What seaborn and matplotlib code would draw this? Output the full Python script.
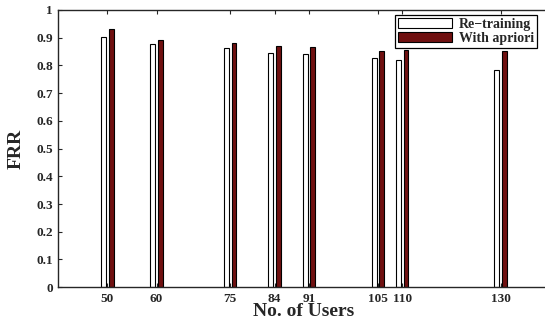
import matplotlib
matplotlib.use("Agg")
import matplotlib.pyplot as plt
import pandas as pd
import seaborn as sns

users = [50, 60, 75, 84, 91, 105, 110, 130]
retraining = [0.901, 0.877, 0.863, 0.845, 0.840, 0.825, 0.820, 0.782]
with_apriori = [0.931, 0.891, 0.880, 0.870, 0.865, 0.851, 0.855, 0.852]
methods = ['Re\u2212training', 'With apriori']
yticks = [0, 0.1, 0.2, 0.3, 0.4, 0.5, 0.6, 0.7, 0.8, 0.9, 1]

df = pd.DataFrame({
    'users': users * 2,
    'frr': retraining + with_apriori,
    'method': [methods[0]] * len(users) + [methods[1]] * len(users),
})

sns.set_style("ticks")
plt.rcParams['font.family'] = ['Liberation Serif', 'DejaVu Serif']
plt.rcParams['font.weight'] = 'bold'

fig = plt.figure(figsize=(5.45, 3.22), dpi=100)
ax = fig.add_axes([0.107, 0.108, 0.9017, 0.861])

sns.barplot(data=df, x='users', y='frr', hue='method', native_scale=True,
            width=0.6, gap=0.33, palette=['white', '#800000'],
            edgecolor='black', linewidth=0.8, ax=ax)

ax.set_xlim(40, 140)
ax.set_ylim(0, 1)
ax.set_xticks(users)
ax.set_xticklabels([str(u) for u in users], fontsize=9.5, fontweight='bold')
ax.set_yticks(yticks)
ax.set_yticklabels(['0' if t == 0 else ('1' if t == 1 else f'{t:.1f}') for t in yticks],
                   fontsize=9.5, fontweight='bold')
ax.tick_params(direction='in', top=True, right=True, length=3, width=0.8, pad=4)
for s in ax.spines.values():
    s.set_linewidth(1.0)

ax.set_xlabel('No. of Users', fontsize=14, fontweight='bold', labelpad=-1)
ax.set_ylabel('FRR', fontsize=14, fontweight='bold', labelpad=8)

handles, labels = ax.get_legend_handles_labels()
leg = ax.legend(handles, labels, loc='upper right',
                bbox_to_anchor=(537 / 545, 1 - 15 / 322), bbox_transform=fig.transFigure,
                borderaxespad=0, fancybox=False, framealpha=1, edgecolor='black',
                handlelength=3.9, handleheight=0.8, borderpad=0.2, labelspacing=0.05,
                handletextpad=0.5, prop={'size': 10, 'weight': 'bold'})
leg.get_frame().set_linewidth(0.9)

plt.savefig("out.png", dpi=100)
